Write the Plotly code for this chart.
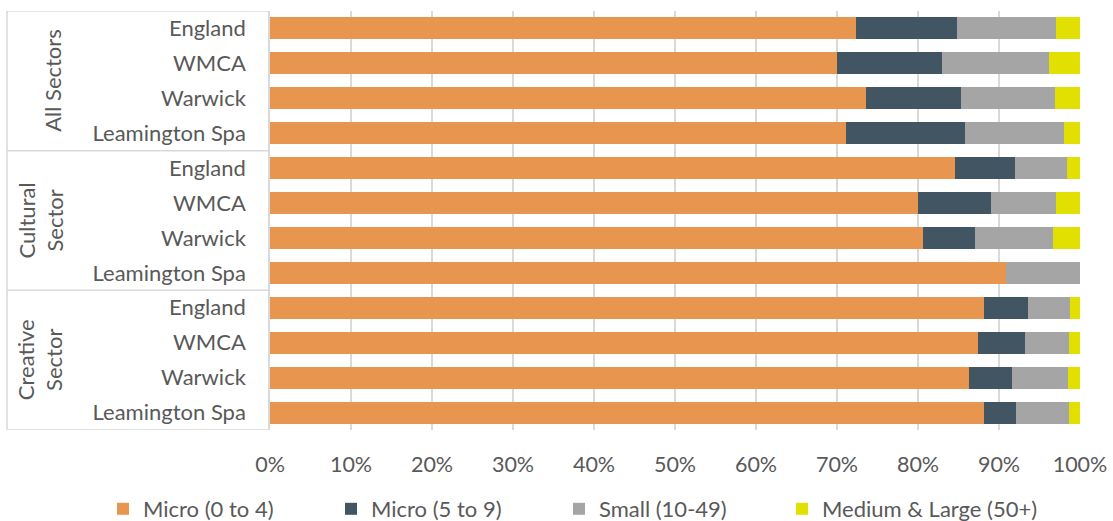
import plotly.graph_objects as go

groups = ["All Sectors", "Cultural<br>Sector", "Creative<br>Sector"]
places = ["England", "WMCA", "Warwick", "Leamington Spa"]
series_names = ["Micro (0 to 4)", "Micro (5 to 9)", "Small (10-49)", "Medium & Large (50+)"]
colors = ["#E8964F", "#415563", "#A5A5A5", "#E1E000"]

micro_0_4 = [72.3, 70.0, 73.6, 71.1, 84.6, 80.0, 80.6, 90.9, 88.2, 87.4, 86.3, 88.1]
micro_5_9 = [12.5, 13.0, 11.7, 14.7, 7.4, 9.0, 6.4, 0.0, 5.4, 5.8, 5.3, 4.0]
small_10_49 = [12.2, 13.2, 11.6, 12.2, 6.4, 8.0, 9.7, 9.1, 5.2, 5.4, 6.9, 6.6]
medium_large = [3.0, 3.8, 3.1, 2.0, 1.6, 3.0, 3.3, 0.0, 1.2, 1.4, 1.5, 1.3]

values = [micro_0_4, micro_5_9, small_10_49, medium_large]
labels = places * len(groups)
ypos = list(range(len(labels)))

FONT = "Lato"
TXT = "#595959"
W, H = 1113, 521
legend_left_px = [119, 347, 575, 798]
legend_ids = ["legend", "legend2", "legend3", "legend4"]

fig = go.Figure()
for name, col, vals, lid in zip(series_names, colors, values, legend_ids):
    fig.add_trace(go.Bar(
        y=ypos, x=vals, name=name, orientation="h", legend=lid,
        marker=dict(color=col, line=dict(width=0)),
    ))

legend_common = dict(orientation="h", xref="container", yref="container",
                     y=1 - 509 / H, yanchor="middle", xanchor="left",
                     font=dict(size=22, color=TXT, family=FONT),
                     bgcolor="rgba(0,0,0,0)", borderwidth=0, itemwidth=30)

n = len(labels)
layout_legends = {}
for lid, px in zip(legend_ids, legend_left_px):
    layout_legends[lid] = dict(legend_common, x=(px - 16) / W)

fig.update_layout(
    barmode="stack",
    width=W, height=H,
    margin=dict(l=270, r=33, t=11, b=91, autoexpand=False),
    paper_bgcolor="white", plot_bgcolor="white",
    bargap=0.37,
    font=dict(family=FONT, size=20, color=TXT),
    showlegend=True,
    xaxis=dict(range=[0, 100], tickvals=list(range(0, 101, 10)),
               ticktext=[f"{v}%" for v in range(0, 101, 10)],
               showgrid=True, gridcolor="#D9D9D9", gridwidth=2,
               zeroline=False, showline=False,
               ticks="outside", ticklen=15, tickcolor="rgba(0,0,0,0)",
               tickfont=dict(size=21.5, color=TXT), fixedrange=True),
    yaxis=dict(range=[n - 0.5, -0.5], tickvals=ypos, ticktext=labels,
               showgrid=False, zeroline=False, showline=True, linecolor="#D9D9D9", linewidth=1.5,
               ticks="outside", ticklen=18, tickcolor="rgba(0,0,0,0)",
               tickfont=dict(size=22, color=TXT), fixedrange=True),
    **layout_legends,
)

# group separator lines and group labels
PW = 810
left_x = -263 / PW
for i in range(len(groups) + 1):
    yv = i * len(places) - 0.5
    fig.add_shape(type="line", xref="paper", yref="y", x0=left_x, x1=0, y0=yv, y1=yv,
                  line=dict(color="#D9D9D9", width=1.5))
fig.add_shape(type="line", xref="paper", yref="y", x0=left_x, x1=left_x, y0=-0.5, y1=n - 0.5,
              line=dict(color="#D9D9D9", width=1.5))

group_x_px = [53, 40, 40]
for gi, g in enumerate(groups):
    center = gi * len(places) + (len(places) - 1) / 2
    fig.add_annotation(text=g, xref="paper", yref="y", x=(group_x_px[gi] - 270) / PW, y=center,
                       textangle=-90, showarrow=False, xanchor="center", yanchor="middle",
                       font=dict(size=22, color=TXT, family=FONT))

fig.write_html("out.html")
